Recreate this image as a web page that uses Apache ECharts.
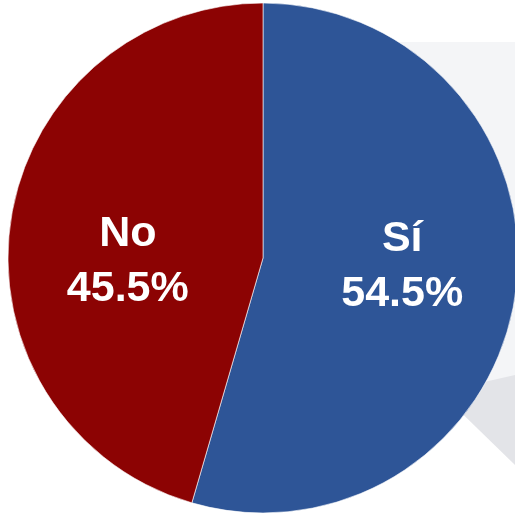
<!DOCTYPE html>
<html><head><meta charset="utf-8">
<script src="https://cdn.jsdelivr.net/npm/echarts@6/dist/echarts.min.js"></script>
<style>html,body{margin:0;padding:0;background:#fff}#c{width:515px;height:515px}</style>
</head><body><div id="c"></div>
<script>
const categories = ['Sí', 'No'];
const values = [54.5, 45.5];
const colors = ['#2E5597', '#8C0303'];
const labelShift = [[10, -10], [-6, 22]];

const chart = echarts.init(document.getElementById('c'));
chart.setOption({
  animation: false,
  graphic: [
    {type: 'polygon', z: -10, shape: {points: [[380, 42], [515, 42], [515, 400], [380, 400]]}, style: {fill: '#F4F5F7'}},
    {type: 'polygon', z: -9, shape: {points: [[440, 392], [515, 375], [515, 465]]}, style: {fill: '#E3E4E8'}}
  ],
  series: [{
    type: 'pie',
    center: [263, 258],
    radius: [0, 255],
    startAngle: 90,
    clockwise: true,
    silent: true,
    itemStyle: {borderColor: '#fff', borderWidth: 0.6},
    label: {
      show: true,
      position: 'inside',
      color: '#fff',
      fontFamily: 'Liberation Sans, Arial, sans-serif',
      fontWeight: 'bold',
      fontSize: 43,
      lineHeight: 55,
      formatter: p => p.name + '\n' + p.value.toFixed(1) + '%'
    },
    labelLine: {show: false},
    labelLayout: p => ({dx: labelShift[p.dataIndex][0], dy: labelShift[p.dataIndex][1]}),
    data: categories.map((n, i) => ({name: n, value: values[i], itemStyle: {color: colors[i]}}))
  }]
});
</script></body></html>
